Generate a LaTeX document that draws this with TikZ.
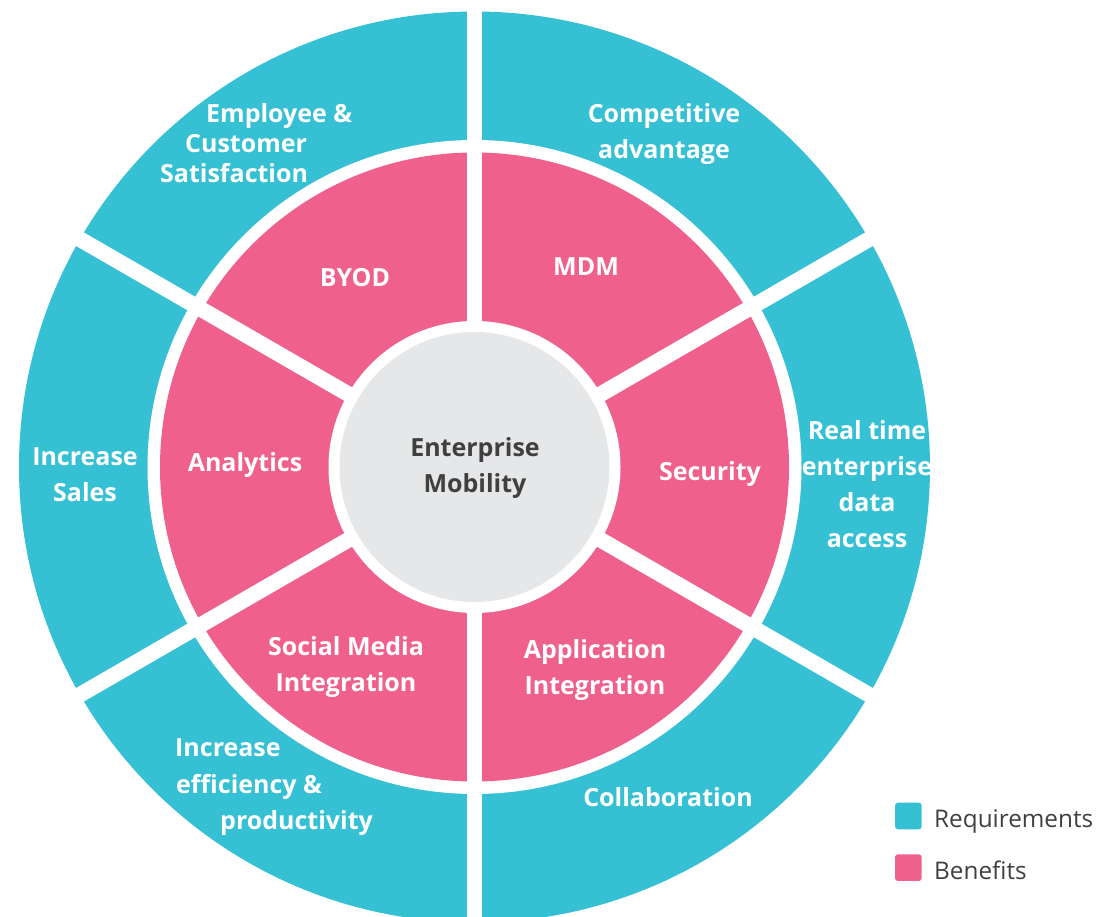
\documentclass[tikz,border=0pt]{standalone}
\usepackage{fontspec}
\setmainfont{Open Sans}
\usetikzlibrary{calc}
\definecolor{reqcol}{RGB}{54,192,212}
\definecolor{bencol}{RGB}{239,96,141}
\definecolor{hubcol}{RGB}{230,231,232}
\definecolor{inkcol}{RGB}{64,64,64}
\begin{document}
\begin{tikzpicture}[x=1pt,y=1pt,
  lbl/.style={text=white, font=\fontsize{25}{36}\selectfont\bfseries, align=center, inner sep=0pt},
  lblline/.style={lbl, anchor=base west},
  hubtext/.style={text=inkcol, font=\fontsize{25}{36}\selectfont\bfseries, align=center, inner sep=0pt},
  legtext/.style={text=inkcol, font=\fontsize{24.3}{28}\selectfont, anchor=base west, inner sep=0pt},
  legbox/.style={rounded corners=3pt}]
\useasboundingbox (0,0) rectangle (1097,917);
\begin{scope}
\clip (0,0) rectangle (1097,917);
\coordinate (c) at (474.5,450);
% rings: requirements (outer), benefits (inner), hub
\fill[reqcol] (c) circle (455.5);
\fill[white] (c) circle (327);
\fill[bencol] (c) circle (314.5);
\fill[white] (c) circle (146);
% radial separators between the six sectors
\foreach \a in {30,90,...,330}
  \draw[white, line width=15.6pt] ($(c)+(\a:138)$) -- ($(c)+(\a:480)$);
\fill[hubcol] (c) circle (135);
\end{scope}

% hub
\node[hubtext] (hub) at (475,449) {Enterprise\\Mobility};

% benefits ring
\node[lbl] (byod) at (355,639) {BYOD};
\node[lbl] (mdm) at (586,650) {MDM};
\node[lbl] (analytics) at (245,452) {Analytics};
\node[lbl] (security) at (710,443) {Security};
\node[lbl] (social) at (346,249.5) {Social Media\\Integration};
\node[lbl] (appint) at (595,247) {Application\\Integration};

% requirements ring
\node[lblline] (emp1) at (206,794) {Employee \&};
\node[lblline] (emp2) at (185,764) {Customer};
\node[lblline] (emp3) at (160,734) {Satisfaction};
\node[lbl] (compet) at (664,783) {Competitive\\advantage};
\node[lbl] (realtime) at (867,433) {Real time\\enterprise\\data\\access};
\node[lbl] (collab) at (668,120) {Collaboration};
\node[lblline] (eff1) at (175,160) {Increase};
\node[lblline] (eff2) at (176,123) {efficiency \&};
\node[lblline] (eff3) at (220,87) {productivity};
\node[lbl] (sales) at (85,442) {Increase\\Sales};

% legend
\fill[reqcol, legbox] (895,87.7) rectangle (921.7,114.3);
\node[legtext] (legreq) at (934,89.5) {Requirements};
\fill[bencol, legbox] (895,36) rectangle (921.7,62.7);
\node[legtext] (legben) at (934,37.7) {Benefits};
\end{tikzpicture}
\end{document}
